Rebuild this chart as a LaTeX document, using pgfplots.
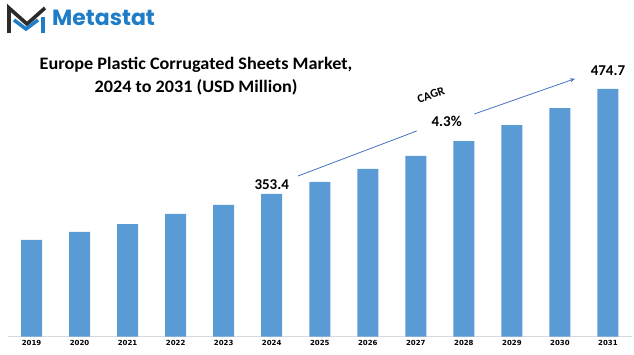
\documentclass[border=0pt]{standalone}
\usepackage{fontspec}
\setmainfont{Carlito}
\newfontfamily\logofont{Poppins}
\newfontfamily\tickfont{DejaVu Sans}
\usepackage{pgfplots}
\pgfplotsset{compat=1.18}
\usepackage{pgfplotstable}
\usetikzlibrary{arrows.meta}
\definecolor{barblue}{HTML}{5B9BD5}
\definecolor{logoblue}{HTML}{1F7DC8}
\definecolor{arrowblue}{HTML}{4472C4}
\definecolor{logodark}{HTML}{2B2B2B}
\pgfplotstableread{
x y
0 300.3
1 309.5
2 318.7
3 330.3
4 340.7
5 353.4
6 367.3
7 382.3
8 397.3
9 414.6
10 433.1
11 452.7
12 474.7
}\datatable
\begin{document}
\begin{tikzpicture}[x=1pt,y=1pt]
\useasboundingbox (0,0) rectangle (634,355);
\begin{axis}[
  at={(7.5pt,18.3pt)}, anchor=south west,
  scale only axis, width=624.5pt, height=276.7pt,
  xmin=-0.5, xmax=12.5, ymin=188.55, ymax=508.2,
  ybar, bar width=21pt,
  axis y line=none,
  axis x line*=bottom,
  x axis line style={draw=black!15, line width=0.9pt, -},
  xtick=data,
  xticklabels={2019,2020,2021,2022,2023,2024,2025,2026,2027,2028,2029,2030,2031},
  major tick length=0pt,
  xticklabel style={font=\tickfont\fontsize{7}{8}\selectfont\bfseries, yshift=-0.5pt},
  clip=false,
]
\addplot[draw=none, fill=barblue] table[x=x,y=y] {\datatable};
\node[font=\fontsize{15}{16}\selectfont\bfseries, yshift=9pt] at (axis cs:5,353.4) {353.4};
\node[font=\fontsize{15}{16}\selectfont\bfseries, yshift=18pt] at (axis cs:12,474.7) {474.7};
\end{axis}
% title
\node[font=\fontsize{17.5}{23}\selectfont\bfseries, align=center, xscale=1.04] at (196,278.5) {Europe Plastic Corrugated Sheets Market,\\2024 to 2031 (USD Million)};
% CAGR arrow
\draw[arrowblue, line width=0.8pt] (298,179) -- (416.7,224);
\draw[arrowblue, line width=0.8pt, -{Stealth[length=5pt,width=4pt]}] (474.3,241) -- (575,276.3);
\node[font=\fontsize{12}{13}\selectfont\bfseries, rotate=20, inner sep=0pt] at (431,260) {CAGR};
\node[font=\fontsize{15}{16}\selectfont\bfseries, inner sep=0pt] at (446.7,233.3) {4.3\%};
% logo
\draw[logodark, line width=3.6pt, line join=miter, line cap=butt] (9,322) -- (9,347) -- (27,331) -- (45,347);
\draw[logoblue, line width=3.6pt, line join=miter, line cap=butt] (14,335) -- (26,326) -- (38,335);
\draw[logoblue, line width=3.6pt, line cap=butt] (43,338) -- (43,322);
\node[font=\logofont\fontsize{22}{24}\selectfont\bfseries, text=logoblue, anchor=west, inner sep=0pt] at (52,337) {Metastat};
\end{tikzpicture}
\end{document}
